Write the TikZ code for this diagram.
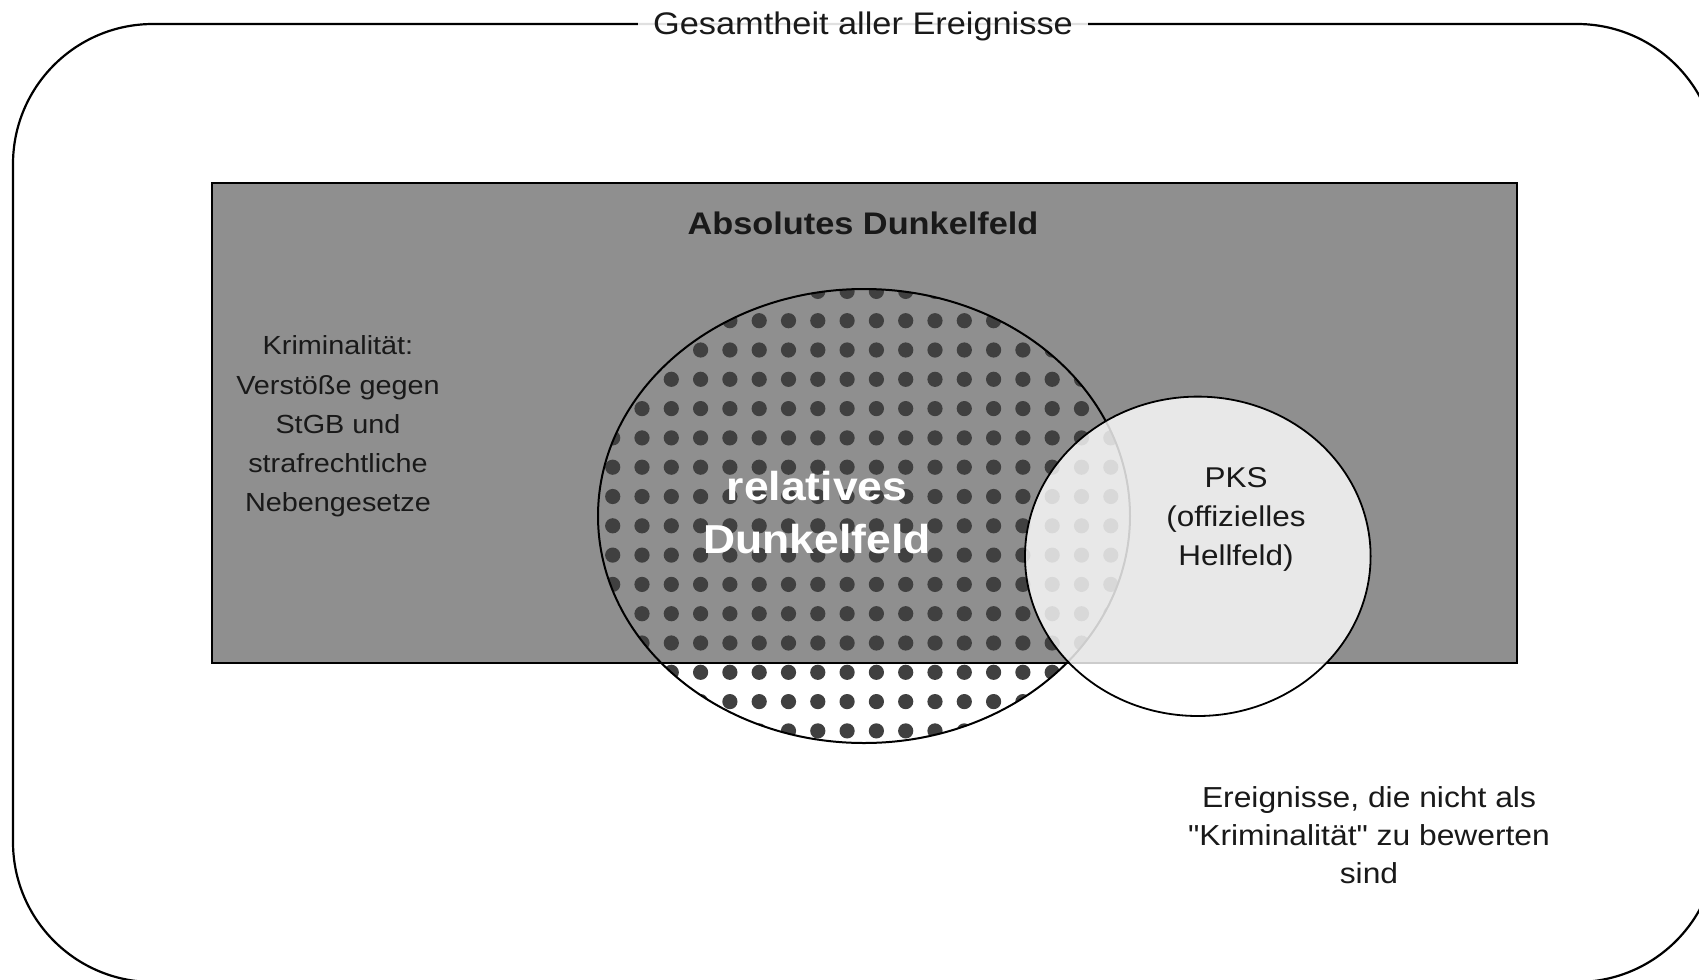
\documentclass[tikz,border=0pt]{standalone}
\usepackage{fontspec}
\setmainfont{Liberation Sans}[FakeStretch=1.1, Ligatures=TeXOff]
\usetikzlibrary{shapes.geometric}
\definecolor{rectgray}{RGB}{143,143,143}
\definecolor{dotgray}{RGB}{64,64,64}
\definecolor{txt}{RGB}{25,25,25}
\tikzset{
  outerbox/.style={draw=black, line width=1.1pt, rounded corners=70pt},
  titlelbl/.style={fill=white, fill opacity=0.88, text opacity=1, inner xsep=7.5pt, inner ysep=1pt, text=txt, font=\fontsize{15.6pt}{19pt}\selectfont},
  darkfield/.style={draw=black, line width=1pt, fill=rectgray, rectangle, inner sep=0pt},
  relellipse/.style={ellipse, draw=black, line width=1pt, inner sep=0pt},
  pksellipse/.style={ellipse, draw=black, line width=0.9pt, fill=white, fill opacity=0.8, inner sep=0pt},
  plainlbl/.style={align=center, text=txt, inner sep=0pt},
}
\begin{document}
\begin{tikzpicture}[x=0.5pt,y=-0.5pt]
\useasboundingbox (0,0) rectangle (1699,980);
\clip (0,0) rectangle (1699,980);
% outer frame
\draw[outerbox] (13,24) rectangle (1717,982);
\node[titlelbl] (title) at (863,26) {Gesamtheit aller Ereignisse};
% absolute dark field
\node[darkfield, minimum width=652.5pt, minimum height=240pt] (abs) at (864.5,423) {};
% dots in relative dark field
\begin{scope}
  \clip (864,516) ellipse [x radius=133pt, y radius=113.5pt];
  \foreach \i in {0,...,19}{
    \foreach \j in {0,...,15}{
      \fill[dotgray] ({583.4+29.3*\i},{291.4+29.3*\j}) circle[radius=3.8pt];
    }
  }
\end{scope}
\node[relellipse, minimum width=266pt, minimum height=227pt] (rel) at (864,516) {};
\node[plainlbl, font=\bfseries\fontsize{15.6pt}{19pt}\selectfont] (abslbl) at (863,223) {Absolutes Dunkelfeld};
\node[plainlbl, font=\fontsize{13.1pt}{19.6pt}\selectfont] (crime) at (338,426.5) {Kriminalität:\\Verstöße gegen\\StGB und\\strafrechtliche\\Nebengesetze};
\node[plainlbl, text=white, font=\bfseries\fontsize{20.2pt}{26.5pt}\selectfont] (rellbl) at (817,513) {relatives\\Dunkelfeld};
% PKS
\node[pksellipse, minimum width=172.8pt, minimum height=159.7pt] (pks) at (1197.8,556.3) {};
\node[plainlbl, font=\fontsize{14.3pt}{19.7pt}\selectfont] (pkslbl) at (1236,519.5) {PKS\\(offizielles\\Hellfeld)};
\node[plainlbl, font=\fontsize{14.45pt}{19pt}\selectfont] (other) at (1369,835) {Ereignisse, die nicht als\\"Kriminalität" zu bewerten\\sind};
\end{tikzpicture}
\end{document}
